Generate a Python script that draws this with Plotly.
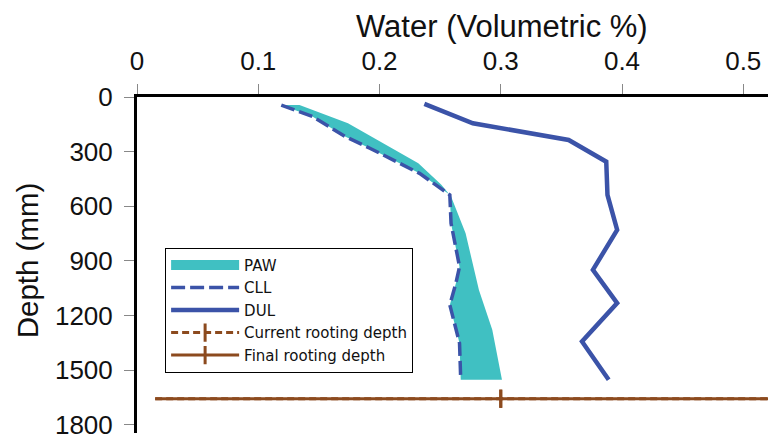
import plotly.graph_objects as go

# ---- data ----
cll_depth = [44, 108, 218, 281, 419, 537, 693, 931, 1022, 1141, 1351, 1552]
cll_water = [0.119, 0.145, 0.172, 0.192, 0.233, 0.258, 0.259, 0.266, 0.263, 0.258, 0.266, 0.267]

paw_upper_depth = [44, 144, 364, 482, 546, 748, 1059, 1278, 1552]
paw_upper_water = [0.134, 0.174, 0.232, 0.251, 0.259, 0.271, 0.282, 0.293, 0.301]

dul_depth = [38, 144, 236, 355, 537, 729, 949, 1131, 1342, 1552]
dul_water = [0.237, 0.277, 0.356, 0.387, 0.388, 0.396, 0.376, 0.396, 0.367, 0.389]

root_line_water = [0.015, 0.6]
root_marker_water = [0.3]
current_root_depth = 1656
final_root_depth = 1656

x_ticks = [0, 0.1, 0.2, 0.3, 0.4, 0.5]
y_ticks = [0, 300, 600, 900, 1200, 1500, 1800]

BLUE = "#3B53A8"
CYAN = "#40C0C2"
BROWN = "#8C4A1E"
FONT = "Liberation Sans, Arial, sans-serif"
LEG_FONT = "DejaVu Sans, Verdana, sans-serif"

fig = go.Figure()

# PAW band: polygon between CLL and upper edge
fig.add_trace(go.Scatter(
    x=cll_water + paw_upper_water[::-1],
    y=cll_depth + paw_upper_depth[::-1],
    fill="toself", fillcolor=CYAN, mode="lines",
    line=dict(width=0, color=CYAN), name="PAW",
    showlegend=False, legendgroup="paw"))
# legend swatch for PAW
fig.add_trace(go.Scatter(
    x=[None], y=[None], mode="lines", name="PAW", legendgroup="paw",
    line=dict(width=13, color=CYAN)))

fig.add_trace(go.Scatter(
    x=cll_water, y=cll_depth, mode="lines", name="CLL",
    line=dict(color=BLUE, width=3.5, dash="14px,5px")))

fig.add_trace(go.Scatter(
    x=dul_water, y=dul_depth, mode="lines", name="DUL",
    line=dict(color=BLUE, width=4.5)))

# current rooting depth
fig.add_trace(go.Scatter(
    x=root_line_water, y=[current_root_depth] * len(root_line_water),
    mode="lines", line=dict(color=BROWN, width=3, dash="7px,4px"),
    showlegend=False, legendgroup="cur"))
fig.add_trace(go.Scatter(
    x=root_marker_water, y=[current_root_depth], mode="lines+markers",
    name="Current rooting depth", legendgroup="cur",
    line=dict(color=BROWN, width=3, dash="7px,4px"),
    marker=dict(symbol="line-ns", size=13, line=dict(color=BROWN, width=3))))

# final rooting depth
fig.add_trace(go.Scatter(
    x=root_line_water, y=[final_root_depth] * len(root_line_water),
    mode="lines", line=dict(color=BROWN, width=3),
    showlegend=False, legendgroup="fin"))
fig.add_trace(go.Scatter(
    x=root_marker_water, y=[final_root_depth], mode="lines+markers",
    name="Final rooting depth", legendgroup="fin",
    line=dict(color=BROWN, width=3),
    marker=dict(symbol="line-ns", size=13, line=dict(color=BROWN, width=3))))

fig.update_layout(
    width=768, height=430,
    margin=dict(l=129, r=0, t=89, b=5),
    paper_bgcolor="white", plot_bgcolor="white",
    font=dict(family=FONT, color="#111", size=16),
    showlegend=True,
    legend=dict(x=0.044, y=0.551, xanchor="left", yanchor="top",
                bgcolor="white", bordercolor="black", borderwidth=1,
                font=dict(size=15, family=LEG_FONT, color="#111"),
                itemwidth=68, tracegroupgap=0),
    xaxis=dict(side="top", range=[0, 0.527], tickvals=x_ticks,
               ticktext=[f"{v:g}" for v in x_ticks],
               showline=True, linecolor="black", linewidth=3,
               ticks="outside", ticklen=10, tickcolor="#888", tickwidth=1,
               showgrid=False, zeroline=False, automargin=False,
               ticklabeloverflow="allow", ticklabelstandoff=4,
               tickfont=dict(size=26, family=FONT)),
    yaxis=dict(range=[1844, 0], tickvals=y_ticks,
               showline=True, linecolor="black", linewidth=3,
               ticks="outside", ticklen=10, tickcolor="#888", tickwidth=1,
               showgrid=False, zeroline=False, ticklabelstandoff=6,
               automargin=False, ticklabeloverflow="allow",
               tickfont=dict(size=26, family=FONT)),
    annotations=[
        dict(text="Water (Volumetric %)", xref="paper", yref="paper",
             x=0.571, y=1.211, xanchor="center", yanchor="middle",
             showarrow=False, font=dict(size=31, family=FONT)),
        dict(text="Depth (mm)", xref="paper", yref="paper",
             x=-0.17, y=0.515, xanchor="center", yanchor="middle",
             textangle=-90, showarrow=False, font=dict(size=29.5, family=FONT)),
    ],
)

fig.write_html("out.html")
